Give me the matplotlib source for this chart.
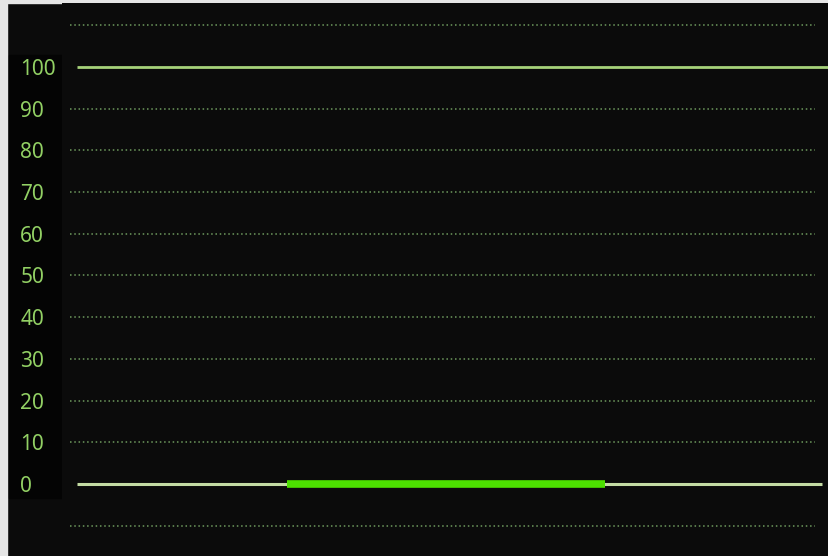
import matplotlib.pyplot as plt
from matplotlib.patches import Rectangle

# data
y_ticks = [0, 10, 20, 30, 40, 50, 60, 70, 80, 90, 100]
grid_levels = [-10, 10, 20, 30, 40, 50, 60, 70, 80, 90, 110]
limit_x = [0, 101]
limit_y = [100, 100]
base_x = [0, 100]
base_y = [0, 0]
active_x = [28.2, 70.9]
active_y = [0, 0]

W, H = 829, 556
fig = plt.figure(figsize=(W / 100, H / 100), dpi=100, facecolor='#0b0b0b')

# white frame edge and slightly darker label column
fig.add_artist(Rectangle((0, 0), 7 / W, 1, transform=fig.transFigure,
                         color='#e6e6e6', zorder=0))
fig.add_artist(Rectangle((0, 1 - 3 / H), 1, 3 / H, transform=fig.transFigure,
                         color='#e6e6e6', zorder=0))
fig.add_artist(Rectangle((9 / W, 1 - 498 / H), 53 / W, 443 / H,
                         transform=fig.transFigure, color='#040404', zorder=0))

ax = fig.add_axes([62 / W, 0, (W - 62) / W, (H - 3) / H])
ax.set_facecolor('#0b0b0b')
ax.set_xlim(-2.01, 100.94)
ax.set_ylim(-17.27, 115.35)

ax.hlines(grid_levels, -1, 99, colors='#6e9a5e', linewidth=1.1,
          linestyles=(0, (1.0, 1.8)), zorder=1)

ax.plot(limit_x, limit_y, color='#a6d27a', linewidth=2, zorder=2,
        solid_capstyle='butt')
ax.plot(base_x, base_y, color='#c4dca4', linewidth=2.2, zorder=2,
        solid_capstyle='butt')
ax.plot(active_x, active_y, color='#4ce000', linewidth=5.5, zorder=3,
        solid_capstyle='butt')

ax.set_xticks([])
ax.set_yticks(y_ticks)
ax.set_yticklabels([str(v) for v in y_ticks], family='Noto Sans',
                   fontsize=15, color='#92d064')
for lab in ax.get_yticklabels():
    lab.set_horizontalalignment('left')
    lab.set_verticalalignment('center_baseline')
ax.tick_params(axis='y', length=0, pad=30)
for s in ax.spines.values():
    s.set_visible(False)

fig.savefig('out.png', dpi=100, facecolor=fig.get_facecolor())
